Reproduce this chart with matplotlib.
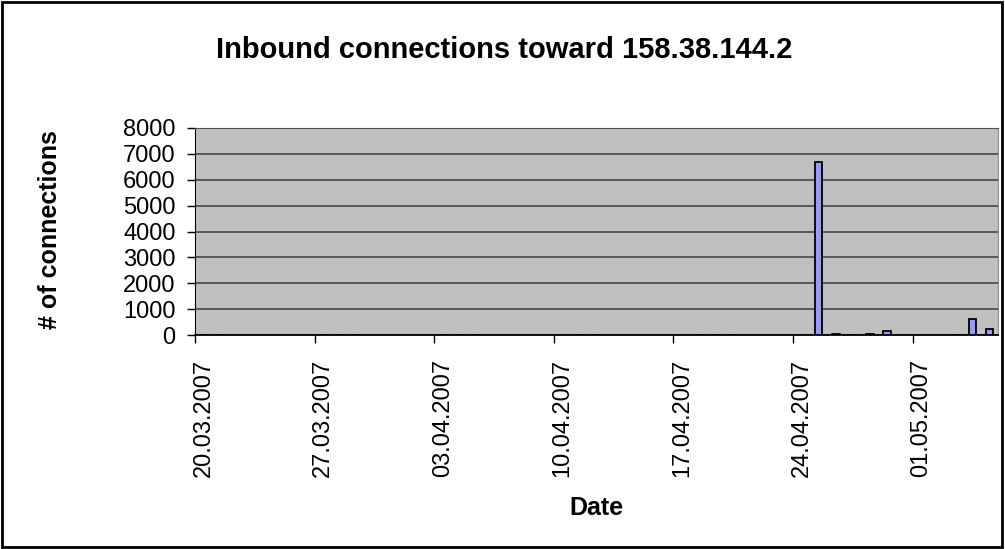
import numpy as np
import matplotlib.pyplot as plt
from matplotlib.patches import Rectangle
from matplotlib.ticker import FixedLocator, NullFormatter

plt.rcParams['font.family'] = ['Liberation Sans', 'DejaVu Sans']

# daily dates 20.03.2007 .. 05.05.2007
dates = ['20.03.2007', '21.03.2007', '22.03.2007', '23.03.2007', '24.03.2007',
         '25.03.2007', '26.03.2007', '27.03.2007', '28.03.2007', '29.03.2007',
         '30.03.2007', '31.03.2007', '01.04.2007', '02.04.2007', '03.04.2007',
         '04.04.2007', '05.04.2007', '06.04.2007', '07.04.2007', '08.04.2007',
         '09.04.2007', '10.04.2007', '11.04.2007', '12.04.2007', '13.04.2007',
         '14.04.2007', '15.04.2007', '16.04.2007', '17.04.2007', '18.04.2007',
         '19.04.2007', '20.04.2007', '21.04.2007', '22.04.2007', '23.04.2007',
         '24.04.2007', '25.04.2007', '26.04.2007', '27.04.2007', '28.04.2007',
         '29.04.2007', '30.04.2007', '01.05.2007', '02.05.2007', '03.05.2007',
         '04.05.2007', '05.05.2007']
connections = [0, 0, 0, 0, 0, 0, 0, 0, 0, 0,
               0, 0, 0, 0, 0, 0, 0, 0, 0, 0,
               0, 0, 0, 0, 0, 0, 0, 0, 0, 0,
               0, 0, 0, 0, 0, 0, 6680, 50, 0, 50,
               150, 0, 0, 0, 0, 620, 230]
yticks = [0, 1000, 2000, 3000, 4000, 5000, 6000, 7000, 8000]

fig = plt.figure(figsize=(10.05, 5.49), dpi=100)
ax = fig.add_axes([195/1005, 1 - 335/549, 803/1005, 207/549])
ax.set_facecolor('#c0c0c0')

x = np.arange(len(dates))
ax.bar(x + 0.5, connections, width=0.45, color='#9999ff',
       edgecolor='black', linewidth=1.3, zorder=3)

ax.set_xlim(0, len(dates))
ax.set_ylim(0, 8000)
ax.set_yticks(yticks)
ax.set_yticklabels([str(v) for v in yticks])
ax.yaxis.grid(True, color='#505050', linewidth=1.3)
ax.set_axisbelow(True)

# labels centred on the category, tick marks on the boundaries
lab_idx = list(range(0, len(dates), 7))
ax.set_xticks([i + 0.5 for i in lab_idx])
ax.set_xticklabels([dates[i] for i in lab_idx], rotation=90)
ax.tick_params(axis='x', length=0, pad=17, labelsize=17)
ax.xaxis.set_minor_locator(FixedLocator(lab_idx))
ax.xaxis.set_minor_formatter(NullFormatter())
ax.tick_params(axis='x', which='minor', length=6, width=1, color='black')
ax.tick_params(axis='y', length=6, width=1, pad=8, labelsize=17)

ax.spines['left'].set_color('black')
ax.spines['bottom'].set_color('black')
ax.spines['bottom'].set_linewidth(1.3)
ax.spines['top'].set_color('#505050')
ax.spines['right'].set_color('#909090')

fig.text(0.502, 1 - 50/549, 'Inbound connections toward 158.38.144.2',
         ha='center', va='center', fontsize=21, fontweight='bold')
fig.text(50/1005, 1 - 230/549, '# of connections', rotation=90,
         ha='center', va='center', fontsize=18, fontweight='bold')
fig.text(596/1005, 1 - 508/549, 'Date', ha='center', va='center',
         fontsize=18, fontweight='bold')

fig.patches.append(Rectangle((0.002, 0.003), 0.995, 0.994, transform=fig.transFigure,
                             fill=False, edgecolor='black', linewidth=2))

fig.savefig('out.png', dpi=100)
